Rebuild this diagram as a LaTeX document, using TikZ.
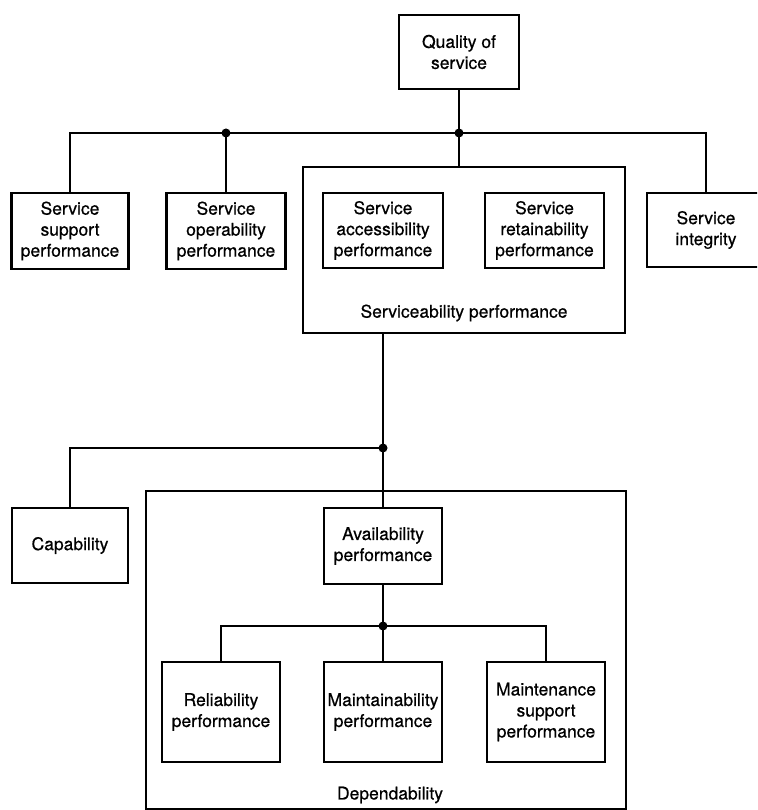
\documentclass[tikz,border=0pt]{standalone}
\usepackage{fontspec}
\newfontfamily\diagfont{TeX Gyre Heros}[FakeBold=0.6]
\begin{document}
\begin{tikzpicture}[x=1pt,y=-1pt,
  box/.style={draw, line width=2.2pt, align=center, inner sep=0pt,
    font=\diagfont\fontsize{17.5}{21}\selectfont},
  lbl/.style={align=center, inner sep=0pt, font=\diagfont\fontsize{17.5}{21}\selectfont},
  conn/.style={line width=2.2pt},
  junct/.style={fill=black}]
\useasboundingbox (0,0) rectangle (757,810);
\begin{scope}
\clip (0,0) rectangle (757,810);
% top level
\node[box, minimum width=120pt, minimum height=74pt] (qos) at (459,52) {Quality of\\service};
\node[box, minimum width=117pt, minimum height=76pt] (ssp) at (70,231) {Service\\support\\performance};
\node[box, minimum width=119pt, minimum height=76pt] (sop) at (226,231) {Service\\operability\\performance};
\node[box, minimum width=322pt, minimum height=166pt] (servbox) at (464,250) {};
\node[lbl] (servlabel) at (464,313) {Serviceability performance};
\node[box, minimum width=120pt, minimum height=75pt] (sap) at (383,230.5) {Service\\accessibility\\performance};
\node[box, minimum width=119pt, minimum height=75pt] (srp) at (544.5,230.5) {Service\\retainability\\performance};
\node[box, minimum width=118pt, minimum height=74pt] (sint) at (706,230) {Service\\integrity};
% lower level
\node[box, minimum width=116pt, minimum height=75pt] (cap) at (70,545.5) {Capability};
\node[box, minimum width=480pt, minimum height=318pt] (depbox) at (386,650) {};
\node[lbl] (deplabel) at (390,795) {Dependability};
\node[box, minimum width=118pt, minimum height=76pt] (avail) at (383,546) {Availability\\performance};
\node[box, minimum width=118pt, minimum height=100pt] (rel) at (221,712) {Reliability\\performance};
\node[box, minimum width=118pt, minimum height=100pt] (maint) at (383,712) {Maintainability\\performance};
\node[box, minimum width=118pt, minimum height=100pt] (msp) at (546,712) {Maintenance\\support\\performance};
% junctions
\coordinate (dotB) at (459,133);
\coordinate (dotA) at (sop.north |- dotB);
\coordinate (dotC) at (383,448);
\coordinate (dotD) at (383,626);
% connectors
\draw[conn] (qos.south) -- (dotB);
\draw[conn] (ssp.north) |- (dotB) -| (sint.north);
\draw[conn] (sop.north) -- (dotA);
\draw[conn] (dotB) -- (servbox.north -| dotB);
\draw[conn] (servbox.south -| avail.north) -- (dotC);
\draw[conn] (dotC) -- (avail.north);
\draw[conn] (dotC) -| (cap.north);
\draw[conn] (avail.south) -- (dotD);
\draw[conn] (dotD) -- (maint.north);
\draw[conn] (rel.north) |- (dotD) -| (msp.north);
\fill[junct] (dotA) circle (4.5pt);
\fill[junct] (dotB) circle (4.5pt);
\fill[junct] (dotC) circle (4.5pt);
\fill[junct] (dotD) circle (4.5pt);
\end{scope}
\end{tikzpicture}
\end{document}
